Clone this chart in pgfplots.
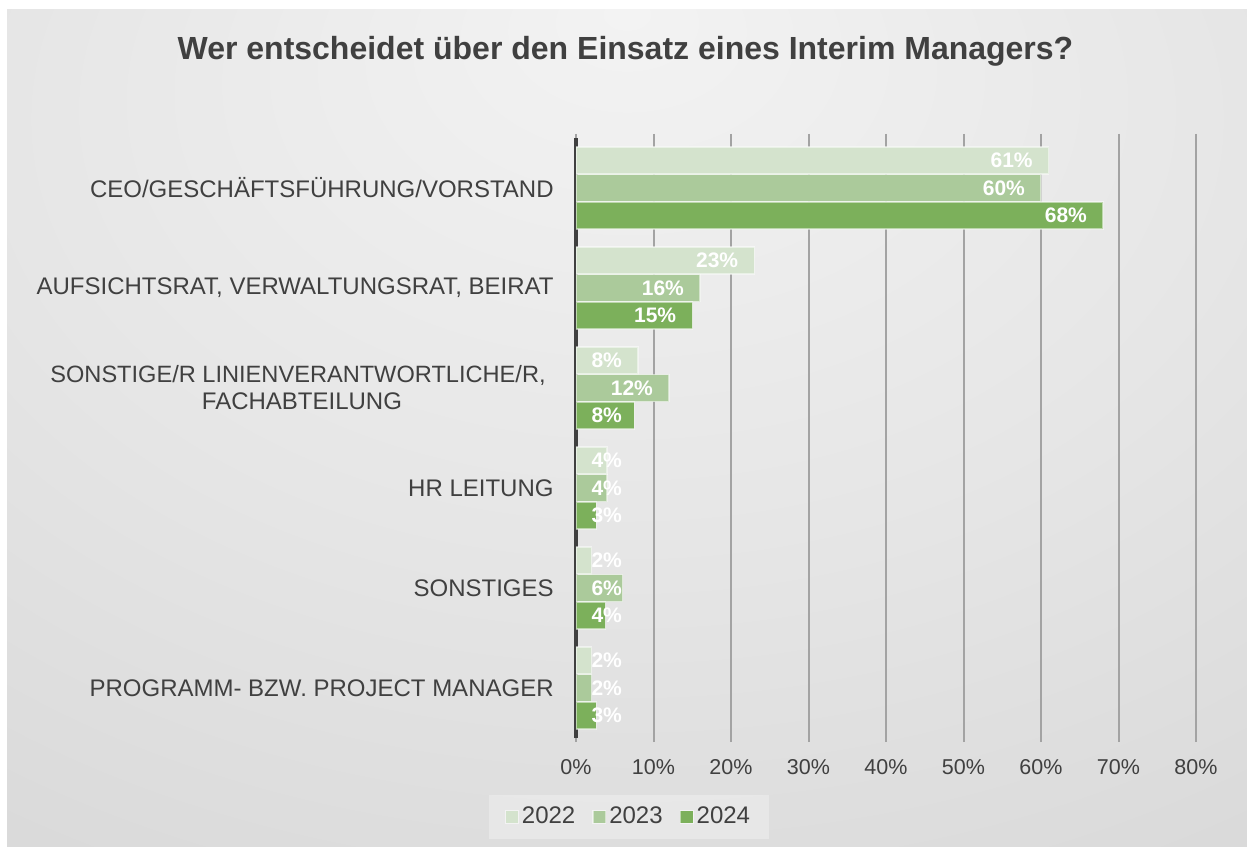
\documentclass[border=0pt]{standalone}
\usepackage{pgfplots}
\usepackage{pgfplotstable}
\pgfplotsset{compat=1.18}
\usepackage{fontspec}
\setmainfont{Liberation Sans}
\definecolor{txt}{HTML}{404040}
\definecolor{c22}{HTML}{D4E3CD}
\definecolor{c23}{HTML}{ABCA9B}
\definecolor{c24}{HTML}{7CB05B}
\definecolor{gridc}{HTML}{A3A3A3}
\definecolor{bga}{HTML}{F3F3F3}
\definecolor{bgb}{HTML}{E6E6E6}
\definecolor{bgc}{HTML}{D3D3D3}
\definecolor{bgd}{HTML}{C0C0C0}
\pgfdeclareradialshading{bgshade}{\pgfpoint{0bp}{25bp}}{color(0bp)=(bga); color(25bp)=(bgb); color(56bp)=(bgc); color(92bp)=(bgd)}

\pgfplotstableread{
pos v22 v23 v24
0 2.0 2.0 2.6
1 2.0 6.0 3.8
2 4.0 4.0 2.6
3 8.0 12.0 7.5
4 23.0 16.0 15.0
5 61.0 60.0 68.0
}\datatable

\begin{document}
\begin{tikzpicture}
\useasboundingbox (0,0) rectangle (623.5pt,424pt);
\fill[white] (0,0) rectangle (623.5pt,424pt);
\shade[shading=bgshade] (3.5pt,1pt) rectangle (623.5pt,419pt);
\node[font=\bfseries\fontsize{16}{19}\selectfont, text=txt, anchor=base] at (312.75pt,394pt) {Wer entscheidet über den Einsatz eines Interim Managers?};
\begin{axis}[
  at={(288pt,55pt)}, anchor=south west,
  scale only axis, width=310pt, height=300pt,
  xbar, bar width=0.27,
  xmin=0, xmax=80, ymin=-0.5, ymax=5.5,
  /pgf/number format/assume math mode=true,
  axis line style={draw=none},
  xtick={10,20,...,80},
  xticklabels={10\%,20\%,30\%,40\%,50\%,60\%,70\%,80\%},
  extra x ticks={0},
  extra x tick labels={0\%},
  extra x tick style={grid style={txt, line width=2pt}},
  xmajorgrids,
  grid style={gridc, line width=1pt},
  tick align=outside,
  major tick length=2pt,
  x tick style={gridc, line width=1pt},
  ytick={0,...,5},
  y tick style={draw=none},
  yticklabels={PROGRAMM- BZW. PROJECT MANAGER, SONSTIGES, HR LEITUNG, {\fontsize{11.8}{13.5}\selectfont SONSTIGE/R LINIENVERANTWORTLICHE/R,\hspace*{4pt}\\FACHABTEILUNG}, {AUFSICHTSRAT, VERWALTUNGSRAT, BEIRAT}, CEO/GESCHÄFTSFÜHRUNG/VORSTAND},
  yticklabel style={font=\fontsize{12}{13.5}\selectfont, text=txt, align=center, inner sep=0pt, xshift=-9pt},
  xticklabel style={font=\fontsize{10.75}{13}\selectfont, text=txt, inner sep=0pt, yshift=-8.5pt},
  nodes near coords={\pgfmathprintnumber[fixed,precision=0]{\pgfplotspointmeta}\%},
  point meta=x,
  visualization depends on={x \as \rawx},
  every node near coord/.append style={anchor=east, inner sep=0pt, text=white, font=\bfseries\fontsize{10.5}{12}\selectfont, xshift={max(0,8.0-\rawx)*3.875-7.75}},
  legend style={at={(0.0855,-0.1317)}, anchor=center, legend columns=3, draw=none,
    fill=white, fill opacity=0.3, text opacity=1, text=txt,
    font=\fontsize{12}{14}\selectfont,
    inner xsep=8pt, inner ysep=4pt,
    /tikz/every even column/.append style={column sep=7pt},
    nodes={inner xsep=1.5pt}},
  legend image code/.code={\draw[#1, fill opacity=1, draw opacity=0.5, line width=0.6pt] (0pt,-3.2pt) rectangle (6.4pt,3.2pt);},
]
\addplot[fill=c22, draw=white, draw opacity=0.5, line width=0.6pt, bar shift=0.275]
  table[x=v22,y=pos] {\datatable};
\addplot[fill=c23, draw=white, draw opacity=0.5, line width=0.6pt, bar shift=0]
  table[x=v23,y=pos] {\datatable};
\addplot[fill=c24, draw=white, draw opacity=0.5, line width=0.6pt, bar shift=-0.275]
  table[x=v24,y=pos] {\datatable};
\legend{2022,2023,2024}
\end{axis}
\end{tikzpicture}
\end{document}
